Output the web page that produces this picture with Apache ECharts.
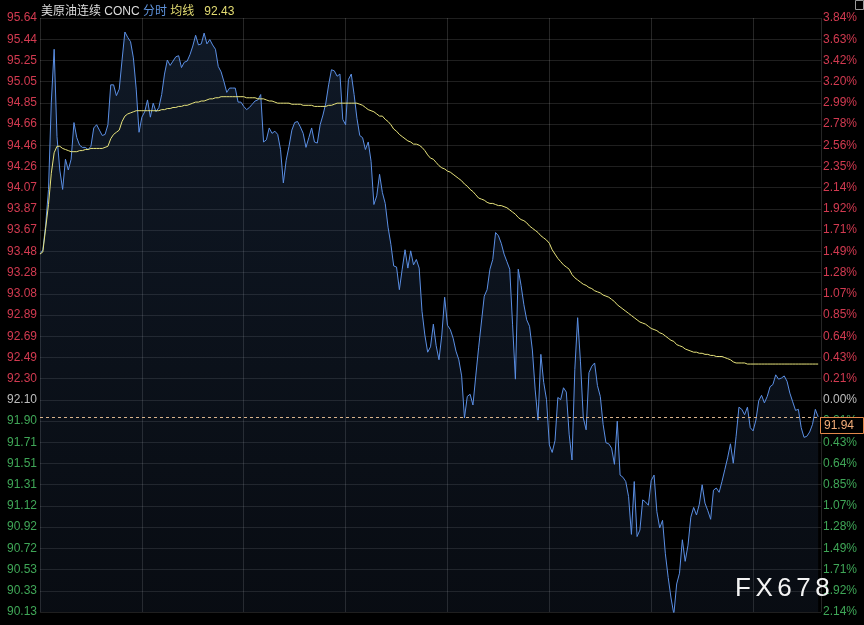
<!DOCTYPE html>
<html><head><meta charset="utf-8">
<script src="https://cdn.jsdelivr.net/npm/echarts@6/dist/echarts.min.js"></script>
<style>html,body{margin:0;padding:0;background:#000;}#c{width:864px;height:625px;}</style>
</head><body><div id="c"></div>
<script>
// ---- data ----
const instrumentName = '美原油连续 CONC';
const modeLabel = '分时';
const avgLabel = '均线';
const watermarkText = 'FX678';

const leftLabels = ['95.64','95.44','95.25','95.05','94.85','94.66','94.46','94.26','94.07','93.87','93.67','93.48','93.28','93.08','92.89','92.69','92.49','92.30','92.10','91.90','91.71','91.51','91.31','91.12','90.92','90.72','90.53','90.33','90.13'];
const rightLabels = ['3.84%','3.63%','3.42%','3.20%','2.99%','2.78%','2.56%','2.35%','2.14%','1.92%','1.71%','1.49%','1.28%','1.07%','0.85%','0.64%','0.43%','0.21%','0.00%','0.21%','0.43%','0.64%','0.85%','1.07%','1.28%','1.49%','1.71%','1.92%','2.14%'];

const sessionMinutes = 1380;   // 23-hour session
const gridMinutes = 180;       // vertical grid every 3 hours
const minutesPerPoint = 5;

const prices = [
93.45,93.49,93.72,94.05,94.86,95.35,94.54,94.23,94.05,94.33,
94.23,94.33,94.67,94.53,94.46,94.44,94.44,94.42,94.45,94.62,
94.65,94.60,94.55,94.56,94.65,95.02,95.02,94.92,94.98,95.25,
95.51,95.46,95.42,95.27,94.98,94.58,94.72,94.77,94.88,94.72,
94.85,94.77,94.81,94.93,95.12,95.25,95.20,95.24,95.28,95.29,
95.18,95.23,95.24,95.30,95.38,95.48,95.39,95.40,95.50,95.40,
95.44,95.39,95.35,95.19,95.14,95.05,94.95,94.99,94.99,94.99,
94.86,94.86,94.82,94.79,94.81,94.84,94.87,94.88,94.93,94.49,
94.51,94.62,94.57,94.59,94.56,94.42,94.11,94.32,94.45,94.60,
94.67,94.68,94.63,94.57,94.44,94.53,94.62,94.49,94.48,94.65,
94.74,94.85,95.02,95.16,95.15,95.10,95.12,94.70,94.65,95.07,
95.12,94.93,94.71,94.55,94.53,94.42,94.49,94.31,93.91,93.99,
94.19,94.02,93.92,93.70,93.54,93.34,93.33,93.12,93.31,93.49,
93.32,93.48,93.35,93.40,93.32,92.92,92.70,92.54,92.59,92.80,
92.60,92.47,92.70,93.05,92.79,92.75,92.67,92.55,92.47,92.32,
91.93,92.13,92.15,92.05,92.32,92.58,92.82,93.06,93.12,93.31,
93.40,93.65,93.62,93.55,93.45,93.38,93.31,92.80,92.29,93.31,
93.16,92.98,92.84,92.78,92.56,92.19,91.91,92.52,92.26,92.10,
91.68,91.61,91.72,92.12,92.10,92.21,92.17,91.78,91.54,92.38,
92.86,92.45,91.93,91.82,92.35,92.41,92.44,92.23,92.13,91.87,
91.70,91.69,91.65,91.50,91.90,91.40,91.38,91.34,91.20,90.85,
91.34,90.83,90.89,91.17,91.15,91.12,91.35,91.40,91.06,90.91,
90.98,90.67,90.45,90.26,90.11,90.39,90.49,90.80,90.60,90.75,
91.01,91.10,91.03,91.13,91.31,91.14,91.07,90.99,91.26,91.28,
91.24,91.34,91.45,91.56,91.69,91.51,91.76,92.03,92.01,91.96,
92.03,91.84,91.81,91.91,92.09,92.14,92.07,92.13,92.22,92.24,
92.33,92.29,92.30,92.32,92.27,92.16,92.08,92.00,92.01,91.84,
91.75,91.76,91.80,91.87,92.01,91.94
];

const avgPrices = [
93.45,93.47,93.69,93.91,94.20,94.39,94.45,94.45,94.43,94.42,
94.41,94.40,94.40,94.40,94.41,94.41,94.42,94.42,94.43,94.43,
94.43,94.43,94.43,94.44,94.45,94.52,94.56,94.58,94.60,94.68,
94.73,94.75,94.76,94.77,94.78,94.78,94.78,94.78,94.78,94.78,
94.78,94.78,94.78,94.79,94.79,94.80,94.80,94.81,94.81,94.82,
94.82,94.83,94.83,94.84,94.85,94.86,94.86,94.87,94.87,94.88,
94.89,94.89,94.90,94.90,94.91,94.91,94.91,94.91,94.91,94.91,
94.91,94.91,94.91,94.90,94.90,94.90,94.90,94.89,94.89,94.89,
94.88,94.87,94.87,94.86,94.85,94.85,94.85,94.85,94.85,94.84,
94.84,94.84,94.84,94.83,94.83,94.83,94.83,94.82,94.82,94.82,
94.82,94.82,94.83,94.83,94.84,94.85,94.85,94.85,94.85,94.85,
94.85,94.85,94.85,94.84,94.83,94.81,94.79,94.78,94.77,94.75,
94.73,94.73,94.70,94.68,94.65,94.61,94.59,94.56,94.54,94.52,
94.50,94.49,94.47,94.47,94.46,94.44,94.41,94.37,94.34,94.33,
94.30,94.27,94.25,94.24,94.22,94.21,94.19,94.17,94.15,94.13,
94.10,94.08,94.05,94.03,94.00,93.97,93.96,93.95,93.93,93.92,
93.92,93.91,93.90,93.90,93.89,93.88,93.86,93.84,93.82,93.79,
93.77,93.76,93.74,93.71,93.69,93.67,93.65,93.62,93.60,93.58,
93.55,93.49,93.45,93.41,93.38,93.35,93.33,93.31,93.26,93.23,
93.21,93.19,93.17,93.16,93.14,93.13,93.11,93.10,93.09,93.07,
93.06,93.05,93.03,93.01,92.98,92.96,92.94,92.92,92.90,92.88,
92.86,92.84,92.82,92.81,92.80,92.78,92.76,92.75,92.74,92.72,
92.71,92.69,92.67,92.65,92.64,92.61,92.60,92.59,92.57,92.56,
92.55,92.54,92.54,92.53,92.53,92.52,92.52,92.51,92.51,92.50,
92.50,92.50,92.49,92.48,92.47,92.45,92.44,92.44,92.44,92.44,
92.43,92.43,92.43,92.43,92.43,92.43,92.43,92.43,92.43,92.43,
92.43,92.43,92.43,92.43,92.43,92.43,92.43,92.43,92.43,92.43,
92.43,92.43,92.43,92.43,92.43,92.43
];

// ---- scale derived from tick labels ----
const nSteps = leftLabels.length - 1;
const zeroIdx = rightLabels.indexOf('0.00%');
const topPrice = parseFloat(leftLabels[0]);
const bottomPrice = parseFloat(leftLabels[nSteps]);
const stepPrice = (topPrice - bottomPrice) / nSteps;
const basePrice = topPrice - zeroIdx * stepPrice;
const toUnits = p => (p - basePrice) / stepPrice;

const RED = '#d23a50', GREEN = '#3fa657', GREY = '#bdbdbd';
const labelColor = v => { v = Math.round(Number(v)); return v > 0 ? RED : (v < 0 ? GREEN : GREY); };

const lastPrice = prices[prices.length - 1];
const lastAvg = avgPrices[avgPrices.length - 1];

const chart = echarts.init(document.getElementById('c'), null, {renderer: 'canvas'});
const FONT = '"Liberation Sans", Arial, "Noto Sans CJK SC", sans-serif';

chart.setOption({
  animation: false,
  backgroundColor: '#000',
  textStyle: {fontFamily: FONT},
  title: {
    left: 36, top: 1,
    text: '{w|' + instrumentName + '} {b|' + modeLabel + '} {y|' + avgLabel + '}   {y|' + lastAvg.toFixed(2) + '}',
    textStyle: {
      fontSize: 12, fontWeight: 'normal',
      rich: {
        w: {color: '#dedede', fontSize: 12, fontWeight: 'normal', fontFamily: FONT},
        b: {color: '#5f93dc', fontSize: 12, fontWeight: 'normal', fontFamily: FONT},
        y: {color: '#e3dc72', fontSize: 12, fontWeight: 'normal', fontFamily: FONT}
      }
    }
  },
  grid: {left: 40, right: 43, top: 18, bottom: 13, containLabel: false},
  xAxis: {
    type: 'value', min: 0, max: sessionMinutes, interval: gridMinutes,
    axisLine: {show: false}, axisTick: {show: false}, axisLabel: {show: false},
    splitLine: {show: true, lineStyle: {color: 'rgba(255,255,255,0.15)', width: 1}}
  },
  yAxis: [
    {
      type: 'value', position: 'left',
      min: -(nSteps - zeroIdx), max: zeroIdx, interval: 1,
      axisLine: {show: false}, axisTick: {show: false},
      axisLabel: {
        margin: 3, fontSize: 12, fontFamily: FONT,
        formatter: v => leftLabels[zeroIdx - Math.round(v)],
        color: labelColor
      },
      splitLine: {show: true, lineStyle: {color: 'rgba(255,255,255,0.12)', width: 1}}
    },
    {
      type: 'value', position: 'right',
      min: -(nSteps - zeroIdx), max: zeroIdx, interval: 1,
      axisLine: {show: false}, axisTick: {show: false},
      axisLabel: {
        margin: 2, fontSize: 12, fontFamily: FONT,
        formatter: v => rightLabels[zeroIdx - Math.round(v)],
        color: labelColor
      },
      splitLine: {show: false}
    }
  ],
  series: [
    {
      name: 'price', type: 'line', yAxisIndex: 0,
      data: prices.map((p, i) => [i * minutesPerPoint, toUnits(p)]),
      showSymbol: false, symbol: 'none',
      lineStyle: {color: '#5b8fe4', width: 1},
      areaStyle: {
        origin: 'start',
        color: new echarts.graphic.LinearGradient(0, 0, 0, 1, [
          {offset: 0, color: 'rgba(52,84,130,0.42)'},
          {offset: 1, color: 'rgba(40,58,88,0.30)'}
        ])
      },
      markLine: {
        silent: true, symbol: ['none', 'none'],
        label: {show: false},
        lineStyle: {color: '#dab48c', type: [3, 3], width: 1},
        data: [{yAxis: toUnits(lastPrice)}]
      },
      z: 3
    },
    {
      name: 'avg', type: 'line', yAxisIndex: 0,
      data: avgPrices.map((p, i) => [i * minutesPerPoint, toUnits(p)]),
      showSymbol: false, symbol: 'none',
      lineStyle: {color: '#e8e47c', width: 1},
      z: 4
    }
  ]
});

// price tag and watermark placed through the chart's own scales
const py = chart.convertToPixel({yAxisIndex: 0}, toUnits(lastPrice));
const xr = chart.convertToPixel({xAxisIndex: 0}, sessionMinutes);

// watermark with wide letter spacing
const wmFont = '26px "Liberation Sans", Arial, sans-serif';
const mctx = document.createElement('canvas').getContext('2d');
mctx.font = wmFont;
const wmEls = [];
let wx = 735;
for (const ch of watermarkText) {
  wmEls.push({type: 'text', z: 102, style: {text: ch, x: wx, y: 576, fill: '#f4f4f4', font: wmFont, verticalAlign: 'top'}});
  wx += mctx.measureText(ch).width + 4.5;
}

chart.setOption({
  graphic: [
    {type: 'rect', z: 100, shape: {x: Math.round(xr) - 0.5, y: Math.round(py) + 0.5, width: 43, height: 16},
     style: {fill: '#000', stroke: '#e2884a', lineWidth: 1}},
    {type: 'text', z: 101, style: {text: lastPrice.toFixed(2), x: Math.round(xr) + 3, y: Math.round(py) + 9,
     fill: '#f2ad78', font: '12px "Liberation Sans", Arial, sans-serif', verticalAlign: 'middle'}},
    {type: 'rect', z: 100, shape: {x: 855.5, y: 0.5, width: 8, height: 9},
     style: {fill: 'none', stroke: '#9a9a9a', lineWidth: 1}}
  ].concat(wmEls)
});
</script>
</body></html>
